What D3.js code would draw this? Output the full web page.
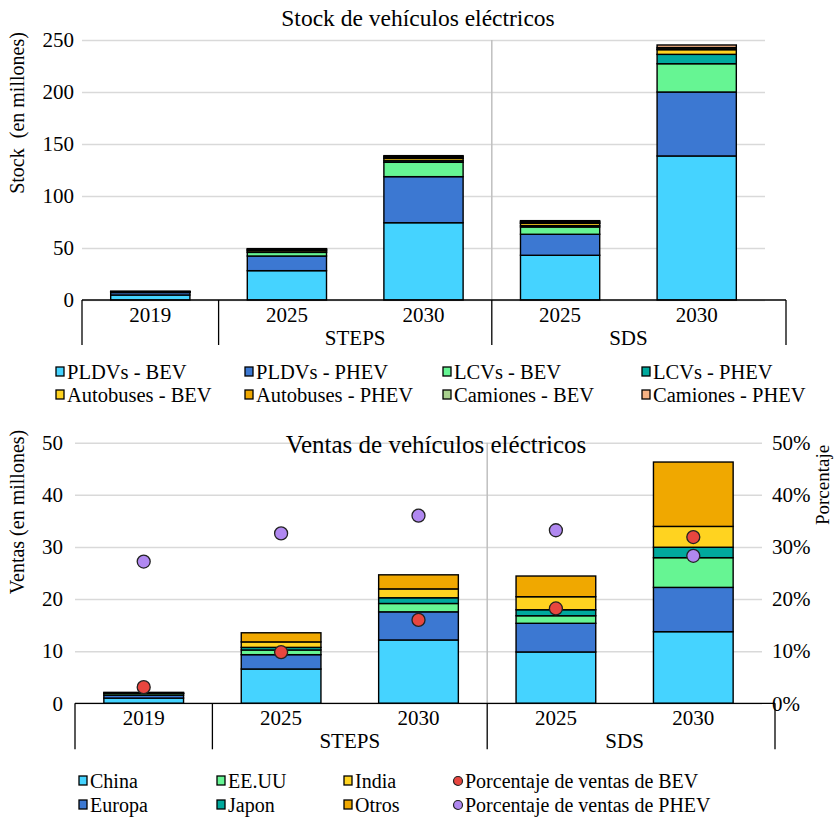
<!DOCTYPE html>
<html><head><meta charset="utf-8">
<script src="https://cdn.jsdelivr.net/npm/d3@7"></script>
<style>
body{margin:0;background:#fff;}
svg{display:block;font-family:"Liberation Serif","Times New Roman",serif;}
</style></head>
<body>
<svg id="c" width="834" height="817"></svg>
<script>
// ---------- DATA ----------
const categories = ["2019","2025","2030","2025","2030"];
const groups = [{name:"STEPS", from:1, to:2},{name:"SDS", from:3, to:4}];

// Top chart: stock (millions)
const stockSeries = ["PLDVs - BEV","PLDVs - PHEV","LCVs - BEV","LCVs - PHEV","Autobuses - BEV","Autobuses - PHEV","Camiones - BEV","Camiones - PHEV"];
const pldvBEV   = [4.8, 28.2, 74.3, 43.0, 138.5];
const pldvPHEV  = [2.4, 14.1, 44.3, 20.2, 61.5];
const lcvBEV    = [0.4, 3.5, 13.8, 7.0, 27.2];
const lcvPHEV   = [0.05, 0.5, 1.5, 1.3, 9.0];
const busBEV    = [0.5, 1.5, 2.2, 2.2, 4.5];
const busPHEV   = [0.02, 0.3, 0.5, 0.4, 0.6];
const truckBEV  = [0.01, 0.9, 1.3, 1.3, 1.4];
const truckPHEV = [0.01, 0.4, 0.9, 0.9, 2.5];
const stockTicks = [0,50,100,150,200,250];

// Bottom chart: sales (millions)
const salesSeries = ["China","Europa","EE.UU","Japon","India","Otros"];
const china  = [1.0, 6.58, 12.15, 9.85, 13.74];
const europa = [0.55, 2.75, 5.4, 5.5, 8.5];
const eeuu   = [0.33, 0.9, 1.6, 1.45, 5.7];
const japon  = [0.04, 0.5, 1.1, 1.15, 2.0];
const india  = [0.01, 1.05, 1.7, 2.5, 4.0];
const otros  = [0.17, 1.75, 2.7, 3.97, 12.35];
const pctBEV  = [0.031, 0.098, 0.160, 0.182, 0.319];
const pctPHEV = [0.272, 0.326, 0.360, 0.332, 0.283];
const salesTicks = [0,10,20,30,40,50];
const pctTicks = [0,0.1,0.2,0.3,0.4,0.5];

// ---------- STYLE ----------
const stockColors = ["#45D3FF","#3C78D2","#66F593","#00A99D","#FFD320","#F0A800","#A9D18E","#F4B183"];
const salesColors = ["#45D3FF","#3C78D2","#66F593","#00A99D","#FFD320","#F0A800"];
const dotColors = ["#E8463F","#B088F0"];
const FONT = 21;
const FF = "Liberation Serif, serif";

const svg = d3.select("#c");

function buildRows(arrs){
  return categories.map((c,i)=>{const o={i}; arrs.forEach((a,k)=>o["s"+k]=a[i]); return o;});
}

function drawChart(cfg){
  const g = svg.append("g");
  const x = d3.scaleBand().domain(d3.range(categories.length)).range([cfg.x0, cfg.x1]).paddingInner(0.42).paddingOuter(0.21);
  const y = d3.scaleLinear().domain(cfg.domain).range([cfg.yb, cfg.yt]);

  // gridlines
  g.append("g").attr("transform",`translate(${cfg.x0},0)`)
    .call(d3.axisLeft(y).tickValues(cfg.ticks).tickSize(-(cfg.x1-cfg.x0)).tickFormat(""))
    .call(s=>s.select(".domain").remove())
    .call(s=>s.selectAll("line").attr("stroke","#D9D9D9").attr("stroke-width",1.5));

  // divider between groups (gray, through plot)
  const divX = x(groups[1].from) - x.step()*x.paddingInner()/2;
  g.append("line").attr("x1",divX).attr("x2",divX).attr("y1",cfg.yt).attr("y2",cfg.yb)
    .attr("stroke","#BFBFBF").attr("stroke-width",1.5);

  // left axis labels
  g.append("g").attr("transform",`translate(${cfg.x0-8},0)`)
    .call(d3.axisLeft(y).tickValues(cfg.ticks).tickSize(0).tickPadding(cfg.leftPad))
    .call(s=>s.select(".domain").remove())
    .call(s=>s.selectAll("text").attr("font-size",FONT).attr("font-family",FF).attr("fill","#000"));

  // stacked bars
  const keys = cfg.series.map((_,k)=>"s"+k);
  const stacked = d3.stack().keys(keys)(buildRows(cfg.arrays));
  g.selectAll("g.layer").data(stacked).join("g").attr("class","layer")
    .attr("fill",(d,k)=>cfg.colors[k])
    .selectAll("rect").data(d=>d).join("rect")
    .attr("x",d=>x(d.data.i)).attr("width",x.bandwidth())
    .attr("y",d=>y(d[1])).attr("height",d=>y(d[0])-y(d[1]))
    .attr("stroke","#000").attr("stroke-width",1.4);

  // category axis box
  const ax = g.append("g").attr("stroke","#000").attr("stroke-width",1.3);
  ax.append("line").attr("x1",cfg.x0).attr("x2",cfg.boxR).attr("y1",cfg.yb).attr("y2",cfg.yb);
  const b1 = x(1) - x.step()*x.paddingInner()/2;
  [cfg.x0, b1, divX, cfg.boxR].forEach(v=>{
    ax.append("line").attr("x1",v).attr("x2",v).attr("y1",cfg.yb).attr("y2",cfg.yb+cfg.boxH);
  });
  g.selectAll("text.cat").data(categories).join("text").attr("class","cat")
    .attr("x",(d,i)=>x(i)+x.bandwidth()/2).attr("y",cfg.yb+22)
    .attr("text-anchor","middle").attr("font-family",FF).attr("font-size",FONT).text(d=>d);
  g.selectAll("text.grp").data(groups).join("text").attr("class","grp")
    .attr("x",d=>{const a=x(d.from)-x.step()*x.paddingInner()/2; const b=(d.to===categories.length-1)?cfg.x1:x(d.to+1)-x.step()*x.paddingInner()/2; return (a+b)/2;})
    .attr("y",cfg.yb+45).attr("text-anchor","middle").attr("font-family",FF).attr("font-size",FONT).text(d=>d.name);

  // title
  g.append("text").attr("x",cfg.titleX).attr("y",cfg.titleY).attr("text-anchor","middle")
    .attr("font-family",FF).attr("font-size",cfg.titleSize).text(cfg.title);
  // y title
  g.append("text").attr("transform",`translate(${cfg.yTitleX},${cfg.yTitleY}) rotate(-90)`)
    .attr("text-anchor","middle").attr("font-family",FF).attr("font-size",cfg.yTitleSize)
    .style("white-space","pre").text(cfg.yTitle);

  return {g,x,y};
}

// ---------- TOP ----------
drawChart({
  x0:82, x1:765, boxR:786, yb:300, yt:40, boxH:45, domain:[0,250], ticks:stockTicks, leftPad:0,
  series:stockSeries, arrays:[pldvBEV,pldvPHEV,lcvBEV,lcvPHEV,busBEV,busPHEV,truckBEV,truckPHEV], colors:stockColors,
  title:"Stock de vehículos eléctricos", titleX:418, titleY:26, titleSize:23.5,
  yTitle:"Stock  (en millones)", yTitleX:24, yTitleY:113, yTitleSize:20
});

// ---------- BOTTOM ----------
const bot = drawChart({
  x0:75, x1:762, boxR:775, yb:703.3, yt:442.7, domain:[0,50], boxH:46, ticks:salesTicks, leftPad:4,
  series:salesSeries, arrays:[china,europa,eeuu,japon,india,otros], colors:salesColors,
  title:"Ventas de vehículos eléctricos", titleX:436, titleY:453, titleSize:25,
  yTitle:"Ventas (en millones)", yTitleX:24, yTitleY:512, yTitleSize:20
});
const yP = d3.scaleLinear().domain([0,0.5]).range([703.3,442.7]);
svg.append("g").attr("transform","translate(766,0)")
  .call(d3.axisRight(yP).tickValues(pctTicks).tickSize(0).tickPadding(6).tickFormat(d3.format(".0%")))
  .call(s=>s.select(".domain").remove())
  .call(s=>s.selectAll("text").attr("font-size",FONT).attr("font-family",FF).attr("fill","#000"));
svg.append("text").attr("transform","translate(829,485) rotate(-90)").attr("text-anchor","middle")
  .attr("font-family",FF).attr("font-size",19).text("Porcentaje");

[pctBEV,pctPHEV].forEach((arr,k)=>{
  svg.append("g").selectAll("circle").data(arr).join("circle")
    .attr("cx",(d,i)=>bot.x(i)+bot.x.bandwidth()/2).attr("cy",d=>yP(d)).attr("r",6.5)
    .attr("fill",dotColors[k]).attr("stroke","#222").attr("stroke-width",1.3);
});

// ---------- LEGENDS ----------
function legend(items, colX, rowY, cols, size, shapeFn){
  items.forEach((it,i)=>{
    const cx = colX[i%cols], cy = rowY[Math.floor(i/cols)];
    const lg = svg.append("g").attr("transform",`translate(${cx},${cy})`);
    shapeFn(lg, i);
    lg.append("text").attr("x",11).attr("y",7).attr("font-family",FF).attr("font-size",size).text(it);
  });
}
legend(stockSeries,[56,245,443,642],[372,395],4,20.5,(lg,i)=>{
  lg.append("rect").attr("x",0).attr("y",-5).attr("width",8).attr("height",9)
    .attr("fill",stockColors[i]).attr("stroke","#000").attr("stroke-width",1.3);
});
const salesLegend = ["China","EE.UU","India","Porcentaje de ventas de BEV","Europa","Japon","Otros","Porcentaje de ventas de PHEV"];
const salesLegendColor = [salesColors[0],salesColors[2],salesColors[4],dotColors[0],salesColors[1],salesColors[3],salesColors[5],dotColors[1]];
legend(salesLegend,[79,217,344,454],[781,805],4,20,(lg,i)=>{
  if(i%4===3){
    lg.append("circle").attr("cx",4).attr("cy",0).attr("r",4.5)
      .attr("fill",salesLegendColor[i]).attr("stroke","#222").attr("stroke-width",1.2);
  } else {
    lg.append("rect").attr("x",0).attr("y",-5).attr("width",8).attr("height",9)
      .attr("fill",salesLegendColor[i]).attr("stroke","#000").attr("stroke-width",1.3);
  }
});
</script>
</body></html>
